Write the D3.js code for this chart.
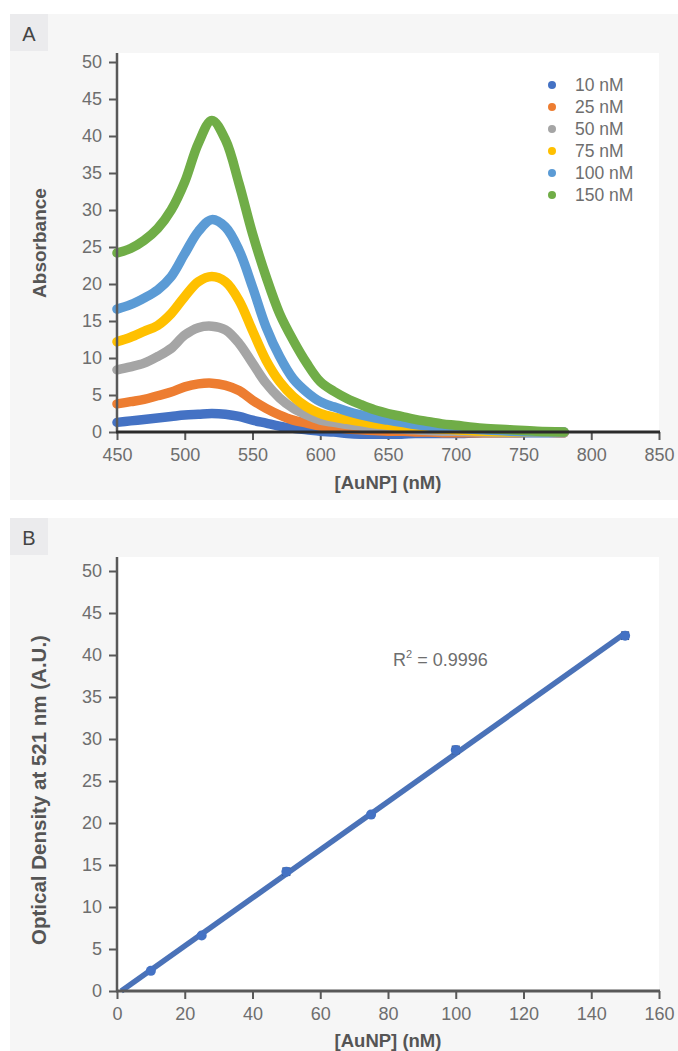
<!DOCTYPE html>
<html>
<head>
<meta charset="utf-8">
<script src="https://cdn.jsdelivr.net/npm/d3@7"></script>
<style>
  body { margin: 0; background: #fff; }
  svg text { font-family: "Liberation Sans", Arial, sans-serif; }
</style>
</head>
<body>
<svg id="chart" width="678" height="1051"></svg>
<script>
// ---- panel A data: absorbance spectra ----
const wavelengths = [450, 460, 470, 480, 490, 500, 510, 520, 530, 540, 550, 560, 570, 580, 590, 600,
                     610, 620, 630, 640, 650, 660, 670, 680, 690, 700, 720, 740, 760, 780];
const abs10  = [1.3, 1.5, 1.7, 1.9, 2.1, 2.3, 2.4, 2.5, 2.4, 2.1, 1.6, 1.2, 0.8, 0.5, 0.3, 0.1,
                0.0, -0.2, -0.3, -0.3, -0.3, -0.3, -0.2, -0.2, -0.2, -0.2, -0.1, -0.1, -0.1, -0.1];
const abs25  = [3.8, 4.1, 4.4, 4.9, 5.4, 6.1, 6.5, 6.6, 6.3, 5.6, 4.3, 3.2, 2.3, 1.6, 1.2, 0.8,
                0.6, 0.4, 0.3, 0.2, 0.1, 0.1, 0.0, 0.0, -0.1, -0.1, -0.1, -0.1, 0.0, -0.1];
const abs50  = [8.4, 8.8, 9.3, 10.2, 11.3, 13.1, 14.1, 14.3, 13.8, 12.0, 9.3, 6.6, 4.6, 3.2, 2.3, 1.6,
                1.3, 1.0, 0.8, 0.6, 0.5, 0.4, 0.3, 0.2, 0.1, 0.1, 0.0, -0.1, 0.0, -0.1];
const abs75  = [12.2, 12.8, 13.6, 14.4, 16.0, 18.3, 20.3, 21.0, 20.3, 17.8, 13.7, 9.7, 6.8, 4.8, 3.4, 2.5,
                2.0, 1.7, 1.4, 1.1, 0.9, 0.7, 0.6, 0.5, 0.4, 0.3, 0.1, 0.0, 0.0, 0.0];
const abs100 = [16.6, 17.2, 18.1, 19.2, 21.0, 24.1, 27.1, 28.7, 27.7, 24.6, 19.6, 14.2, 10.2, 7.2, 5.4, 4.1,
                3.4, 2.8, 2.3, 1.9, 1.6, 1.3, 1.0, 0.8, 0.6, 0.5, 0.3, 0.1, 0.0, 0.0];
const abs150 = [24.2, 24.8, 25.9, 27.5, 30.0, 33.8, 39.0, 42.1, 39.5, 33.6, 26.8, 21.0, 16.0, 12.4, 9.3, 6.8,
                5.5, 4.5, 3.7, 3.0, 2.5, 2.1, 1.7, 1.4, 1.1, 0.9, 0.5, 0.3, 0.1, 0.0];
const seriesNames = ["10 nM", "25 nM", "50 nM", "75 nM", "100 nM", "150 nM"];
const seriesValues = [abs10, abs25, abs50, abs75, abs100, abs150];
const seriesColors = ["#4472c4", "#ed7d31", "#a5a5a5", "#ffc000", "#5b9bd5", "#70ad47"];
const xTicksA = [450, 500, 550, 600, 650, 700, 750, 800, 850];
const yTicks = [0, 5, 10, 15, 20, 25, 30, 35, 40, 45, 50];

// ---- panel B data: calibration ----
const conc = [10, 25, 50, 75, 100, 150];
const od521 = [2.4, 6.6, 14.2, 21.0, 28.7, 42.3];
const odErr = [0.1, 0.15, 0.4, 0.2, 0.4, 0.4];
const xTicksB = [0, 20, 40, 60, 80, 100, 120, 140, 160];
const r2Label = "0.9996";

const svg = d3.select("#chart");
const tickColor = "#595959";
const labelColor = "#6e6e6e";
const titleColor = "#555";

function panel(y0, h, letter) {
  svg.append("rect").attr("x", 10).attr("y", y0).attr("width", 668).attr("height", h).attr("fill", "#f6f6f6");
  svg.append("rect").attr("x", 10).attr("y", y0).attr("width", 38).attr("height", 37).attr("fill", "#ebebed");
  svg.append("text").attr("x", 29).attr("y", y0 + 27).attr("text-anchor", "middle")
    .attr("font-size", 20).attr("fill", "#444").text(letter);
}

function axes(g, x, y, xTicks, top, xColor) {
  const [left, right] = x.range();
  const bottom = y(0);
  g.append("rect").attr("x", left).attr("y", top).attr("width", right - left).attr("height", bottom - top)
    .attr("fill", "#fff");

  const ya = g.append("g").attr("transform", `translate(${left},0)`)
    .call(d3.axisLeft(y).tickValues(yTicks).tickSize(8).tickSizeOuter(0).tickPadding(7));
  ya.select(".domain").remove();
  ya.selectAll(".tick line").attr("stroke", tickColor).attr("stroke-width", 2);
  ya.selectAll(".tick text").attr("font-size", 18).attr("fill", labelColor)
    .style("font-family", "Liberation Sans, Arial, sans-serif");

  const xa = g.append("g").attr("transform", `translate(0,${bottom})`)
    .call(d3.axisBottom(x).tickValues(xTicks).tickSize(8).tickSizeOuter(0).tickPadding(8));
  xa.select(".domain").remove();
  xa.selectAll(".tick line").attr("stroke", tickColor).attr("stroke-width", 2);
  xa.selectAll(".tick text").attr("font-size", 18).attr("fill", labelColor)
    .style("font-family", "Liberation Sans, Arial, sans-serif");
  return { left, right, bottom, top, xColor };
}

function axisLines(g, a) {
  g.append("line").attr("x1", a.left).attr("x2", a.left).attr("y1", a.top).attr("y2", a.bottom + 1)
    .attr("stroke", tickColor).attr("stroke-width", 2.5);
  g.append("line").attr("x1", a.left - 1).attr("x2", a.right + 1).attr("y1", a.bottom).attr("y2", a.bottom)
    .attr("stroke", a.xColor).attr("stroke-width", 3);
}

// ================= Panel A =================
panel(14, 486, "A");
const gA = svg.append("g");
const xA = d3.scaleLinear().domain([450, 850]).range([117, 659]);
const yA = d3.scaleLinear().domain([0, 50]).range([432, 62]);
const axA = axes(gA, xA, yA, xTicksA, 53, "#2b2b2b");

const lineA = d3.line()
  .x((d, i) => xA(wavelengths[i]))
  .y(d => yA(d))
  .curve(d3.curveCatmullRom.alpha(0.5));

gA.append("g").selectAll("path")
  .data(seriesValues)
  .join("path")
  .attr("d", lineA)
  .attr("fill", "none")
  .attr("stroke", (d, i) => seriesColors[i])
  .attr("stroke-width", 9.5)
  .attr("stroke-linejoin", "round")
  .attr("stroke-linecap", "round");

axisLines(gA, axA);

const legend = gA.append("g").selectAll("g")
  .data(seriesNames)
  .join("g")
  .attr("transform", (d, i) => `translate(552,${85 + i * 22})`);
legend.append("circle").attr("r", 4).attr("fill", (d, i) => seriesColors[i]);
legend.append("text").attr("x", 23).attr("y", 6).attr("font-size", 17.5).attr("fill", labelColor).text(d => d);

gA.append("text").attr("x", 388).attr("y", 489).attr("text-anchor", "middle")
  .attr("font-size", 18.5).attr("font-weight", "bold").attr("fill", titleColor).text("[AuNP] (nM)");
gA.append("text").attr("transform", "translate(46,243) rotate(-90)").attr("text-anchor", "middle")
  .attr("font-size", 19).attr("font-weight", "bold").attr("fill", titleColor).text("Absorbance");

// ================= Panel B =================
panel(518, 533, "B");
const gB = svg.append("g");
const xB = d3.scaleLinear().domain([0, 160]).range([117, 659]);
const yB = d3.scaleLinear().domain([0, 50]).range([991, 571]);
const axB = axes(gB, xB, yB, xTicksB, 557, tickColor);

// least-squares trendline through the measured points
const mx = d3.mean(conc), my = d3.mean(od521);
const slope = d3.sum(conc, (c, i) => (c - mx) * (od521[i] - my)) / d3.sum(conc, c => (c - mx) ** 2);
const icpt = my - slope * mx;
const xStart = Math.max(0, -icpt / slope);
gB.append("line")
  .attr("x1", xB(xStart)).attr("y1", yB(slope * xStart + icpt))
  .attr("x2", xB(150)).attr("y2", yB(slope * 150 + icpt))
  .attr("stroke", "#4a72b8").attr("stroke-width", 5.5);

const pts = gB.append("g").selectAll("g").data(conc).join("g");
pts.append("line")
  .attr("x1", d => xB(d)).attr("x2", d => xB(d))
  .attr("y1", (d, i) => yB(od521[i] - odErr[i])).attr("y2", (d, i) => yB(od521[i] + odErr[i]))
  .attr("stroke", "#2e4a78").attr("stroke-width", 1.5);
pts.each(function (d, i) {
  const g = d3.select(this);
  [od521[i] - odErr[i], od521[i] + odErr[i]].forEach(v => {
    g.append("line").attr("x1", xB(d) - 4).attr("x2", xB(d) + 4).attr("y1", yB(v)).attr("y2", yB(v))
      .attr("stroke", "#2e4a78").attr("stroke-width", 2);
  });
});
pts.append("circle")
  .attr("cx", d => xB(d)).attr("cy", (d, i) => yB(od521[i]))
  .attr("r", 5).attr("fill", "#4472c4");

axisLines(gB, axB);

const r2 = gB.append("text").attr("x", 393).attr("y", 666).attr("font-size", 18).attr("fill", labelColor);
r2.append("tspan").text("R");
r2.append("tspan").attr("font-size", 11).attr("dy", -8).text("2");
r2.append("tspan").attr("dy", 8).text(" = " + r2Label);

gB.append("text").attr("x", 388).attr("y", 1047).attr("text-anchor", "middle")
  .attr("font-size", 18.5).attr("font-weight", "bold").attr("fill", titleColor).text("[AuNP] (nM)");
gB.append("text").attr("transform", "translate(46,790) rotate(-90)").attr("text-anchor", "middle")
  .attr("font-size", 20.5).attr("font-weight", "bold").attr("fill", titleColor).text("Optical Density at 521 nm (A.U.)");
</script>
</body>
</html>
